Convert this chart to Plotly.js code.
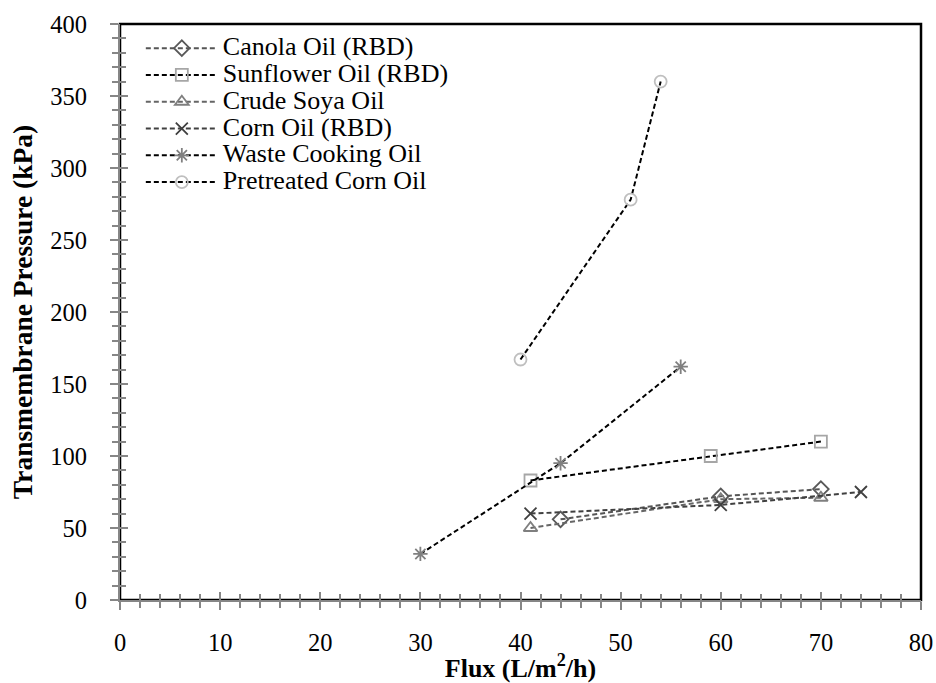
<!DOCTYPE html>
<html>
<head>
<meta charset="utf-8">
<script src="https://cdn.plot.ly/plotly-3.0.1.min.js"></script>
<style>html,body{margin:0;padding:0;background:#fff;}#chart{width:936px;height:683px;}</style>
</head>
<body>
<div id="chart"></div>
<script>
// Data
const seriesNames = ["Canola Oil (RBD)", "Sunflower Oil (RBD)", "Crude Soya Oil", "Corn Oil (RBD)", "Waste Cooking Oil", "Pretreated Corn Oil"];
const canolaFlux = [44, 60, 70];
const canolaTMP = [56, 72, 77];
const sunflowerFlux = [41, 59, 70];
const sunflowerTMP = [83, 100, 110];
const soyaFlux = [41, 60, 70];
const soyaTMP = [50, 70, 71];
const cornFlux = [41, 60, 74];
const cornTMP = [60, 66, 75];
const wasteFlux = [30, 44, 56];
const wasteTMP = [32, 95, 162];
const pretreatedFlux = [40, 51, 54];
const pretreatedTMP = [167, 278, 360];
const xTickVals = [0, 10, 20, 30, 40, 50, 60, 70, 80];
const yTickVals = [0, 50, 100, 150, 200, 250, 300, 350, 400];

const serif = "Liberation Serif";
function mk(x, y, name, sym, mcol, lcol) {
  return {
    x: x, y: y, name: '<span style="font-size:26px">' + name + '</span>',
    type: "scatter", mode: "lines+markers",
    line: {color: lcol, width: 2, dash: "5px,3px"},
    marker: {symbol: sym, size: 12, color: mcol, line: {color: mcol, width: 1.8}}
  };
}
const traces = [
  mk(canolaFlux, canolaTMP, seriesNames[0], "diamond-open", "#595959", "#555555"),
  mk(sunflowerFlux, sunflowerTMP, seriesNames[1], "square-open", "#a6a6a6", "#000000"),
  mk(soyaFlux, soyaTMP, seriesNames[2], "triangle-up-open", "#7f7f7f", "#666666"),
  mk(cornFlux, cornTMP, seriesNames[3], "x-thin-open", "#404040", "#404040"),
  mk(wasteFlux, wasteTMP, seriesNames[4], "asterisk-open", "#808080", "#000000"),
  mk(pretreatedFlux, pretreatedTMP, seriesNames[5], "circle-open", "#bfbfbf", "#000000"),
  // invisible helper so the overlay axes (inner half of the crossing ticks) are drawn
  {x: canolaFlux, y: canolaTMP, xaxis: "x2", yaxis: "y2", type: "scatter", mode: "markers",
   marker: {opacity: 0}, showlegend: false, hoverinfo: "skip"}
];

const tickFont = {family: serif, size: 24.5, color: "#000"};
const layout = {
  width: 936, height: 683,
  margin: {l: 120, r: 15, t: 24, b: 83, pad: 0},
  paper_bgcolor: "#ffffff", plot_bgcolor: "#ffffff",
  font: {family: serif, size: 24, color: "#000"},
  showlegend: true,
  legend: {x: 0.026, y: 0.990, xanchor: "left", yanchor: "top", bgcolor: "rgba(0,0,0,0)",
    font: {family: serif, size: 18.3, color: "#000"}, tracegroupgap: 0, itemwidth: 72},
  xaxis: {
    range: [0, 80], tickvals: xTickVals, showgrid: false, zeroline: false,
    showline: true, linecolor: "#868686", linewidth: 2,
    ticks: "outside", ticklen: 8, tickwidth: 2, tickcolor: "#868686",
    minor: {dtick: 2, ticks: "outside", ticklen: 6, tickwidth: 2, tickcolor: "#868686"},
    ticklabelstandoff: 12,
    tickfont: tickFont,
    title: {text: "Flux (L/m<sup>2</sup>/h)", font: {family: serif, size: 26, color: "#000", weight: "bold"}, standoff: 8}
  },
  yaxis: {
    range: [0, 400], tickvals: yTickVals, showgrid: false, zeroline: false,
    showline: true, linecolor: "#868686", linewidth: 2,
    ticks: "outside", ticklen: 8, tickwidth: 2, tickcolor: "#868686",
    minor: {dtick: 10, ticks: "outside", ticklen: 6, tickwidth: 2, tickcolor: "#868686"},
    ticklabelstandoff: 18,
    tickfont: tickFont,
    title: {text: "Transmembrane Pressure (kPa)", font: {family: serif, size: 27.5, color: "#000", weight: "bold"}, standoff: 10}
  },
  xaxis2: {
    overlaying: "x", anchor: "y", side: "bottom", range: [0, 80], tickvals: xTickVals,
    showgrid: false, zeroline: false, showline: false, showticklabels: false,
    ticks: "inside", ticklen: 8, tickwidth: 2, tickcolor: "#868686",
    minor: {dtick: 2, ticks: "inside", ticklen: 6, tickwidth: 2, tickcolor: "#868686"}
  },
  yaxis2: {
    overlaying: "y", anchor: "x", side: "left", range: [0, 400], tickvals: yTickVals,
    showgrid: false, zeroline: false, showline: false, showticklabels: false,
    ticks: "inside", ticklen: 8, tickwidth: 2, tickcolor: "#868686",
    minor: {dtick: 10, ticks: "inside", ticklen: 6, tickwidth: 2, tickcolor: "#868686"}
  },
  shapes: [{type: "rect", xref: "paper", yref: "paper", x0: 0, x1: 1, y0: 0, y1: 1,
    line: {color: "#000", width: 2.5}, layer: "below"}]
};

Plotly.newPlot("chart", traces, layout, {displayModeBar: false, staticPlot: true});
</script>
</body>
</html>
